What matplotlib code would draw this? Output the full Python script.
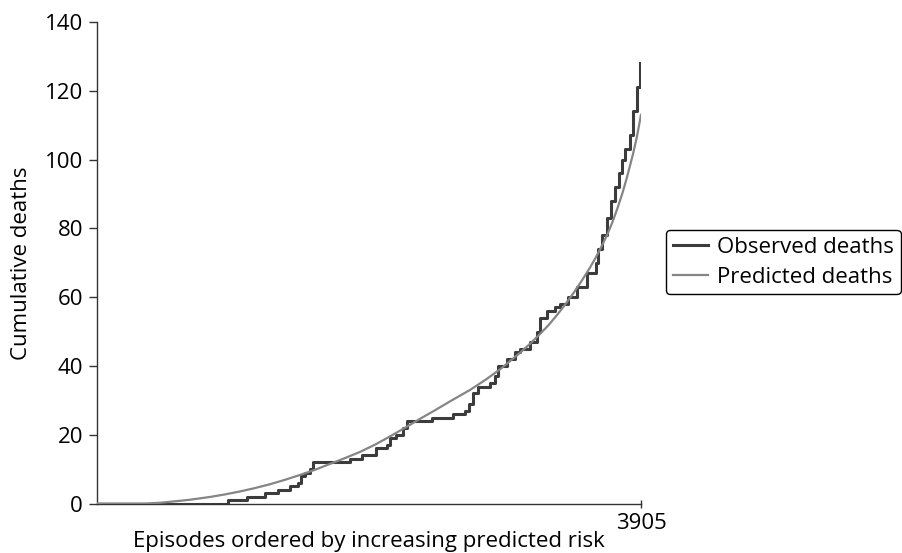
import matplotlib.pyplot as plt

plt.rcParams['font.family'] = ['Open Sans', 'DejaVu Sans']

# observed cumulative deaths (step points: episode index, deaths)
obs_x = [0, 940, 1075, 1206, 1301, 1385, 1443, 1464, 1493, 1529, 1553,
         1816, 1900, 2000, 2081, 2103, 2146, 2196, 2225, 2404, 2555, 2641,
         2670, 2699, 2735, 2821, 2857, 2878, 2943, 3000, 3036, 3108, 3158,
         3180, 3230, 3287, 3323, 3381, 3445, 3517, 3582, 3596, 3625, 3660,
         3690, 3715, 3747, 3768, 3790, 3826, 3847, 3876, 3898]
obs_y = [0, 1, 2, 3, 4, 5, 6, 8, 9, 10, 12,
         13, 14, 16, 17, 19, 20, 22, 24, 25, 26, 27,
         29, 32, 34, 35, 37, 40, 42, 44, 45, 47, 50,
         54, 56, 57, 58, 60, 63, 67, 70, 74, 78, 83,
         88, 92, 96, 100, 103, 107, 114, 121, 128]

# predicted cumulative deaths
pred_x = [0, 345, 450, 524, 600, 668, 740, 811, 920, 1026, 1135, 1242,
          1350, 1457, 1565, 1672, 1780, 1888, 2000, 2103, 2210, 2318, 2430,
          2534, 2677, 2790, 2893, 3036, 3110, 3180, 3240, 3302, 3360, 3417,
          3480, 3539, 3580, 3610, 3661, 3700, 3733, 3770, 3804, 3847, 3875,
          3905]
pred_y = [0, 0, 0.2, 0.5, 0.8, 1.1, 1.5, 1.9, 2.65, 3.5, 4.5, 5.6,
          6.9, 8.3, 9.8, 11.5, 13.2, 15.0, 17.2, 19.5, 22.0, 24.6, 27.2,
          29.7, 33.0, 36.0, 39.0, 43.8, 46.5, 49.3, 51.8, 54.8, 57.8, 61.0,
          64.8, 68.6, 71.5, 73.8, 78.0, 81.8, 85.5, 90.0, 94.8, 101.5, 106.5,
          113.0]

fig = plt.figure(figsize=(9.03, 5.53), dpi=100)
ax = fig.add_axes([97 / 903, 1 - 503.5 / 553, 544 / 903, 481.5 / 553])

ax.step(obs_x, obs_y, where='post', color='#3c3c3c', lw=2.2,
        label='Observed deaths', zorder=3)
ax.plot(pred_x, pred_y, color='#858585', lw=1.6,
        label='Predicted deaths', zorder=4)

ax.set_xlim(0, 3905)
ax.set_ylim(0, 140)
ax.set_yticks(range(0, 141, 20))
ax.set_xticks([3905])

for s in ['top', 'right']:
    ax.spines[s].set_visible(False)
for s in ['left', 'bottom']:
    ax.spines[s].set_color('#333333')
    ax.spines[s].set_linewidth(1.0)

ax.tick_params(axis='y', direction='out', length=6, width=1,
               color='#333333', labelsize=16, pad=4)
ax.tick_params(axis='x', direction='inout', length=6, width=1,
               color='#333333', labelsize=16, pad=4)

ax.set_ylabel('Cumulative deaths', fontsize=16, labelpad=9)
ax.set_xlabel('Episodes ordered by increasing predicted risk',
              fontsize=16, labelpad=-2)

fig.legend(loc='upper left', bbox_to_anchor=(666 / 903, 1 - 230 / 553),
           borderaxespad=0, fontsize=16, frameon=True, fancybox=True,
           edgecolor='black', framealpha=1, handlelength=1.6,
           handletextpad=0.4, labelspacing=0.4, borderpad=0.3)

fig.savefig('out.png', dpi=100)
